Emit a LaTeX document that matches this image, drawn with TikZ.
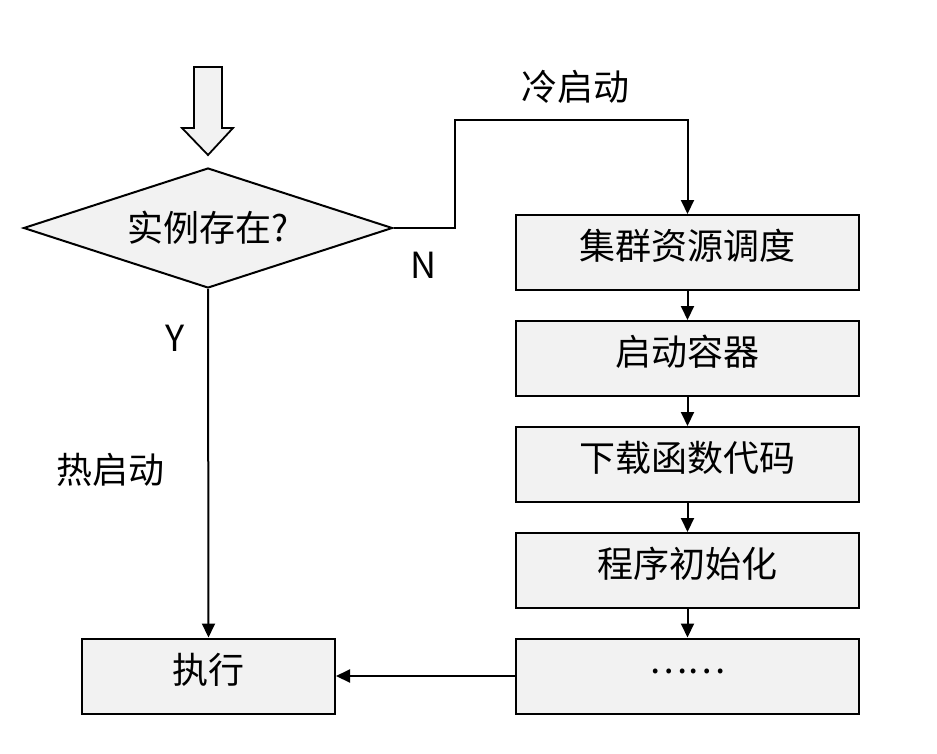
\documentclass[tikz,border=0pt]{standalone}
\usepackage{fontspec}
\setmainfont{Noto Sans CJK SC}
\usetikzlibrary{shapes.geometric,arrows.meta}
\definecolor{boxfill}{HTML}{F2F2F2}
\begin{document}
\begin{tikzpicture}[x=1pt,y=-1pt,
  every node/.style={font=\fontsize{36}{42}\selectfont},
  stepbox/.style={draw=black,line width=2pt,fill=boxfill,minimum width=343pt,minimum height=75pt,inner sep=0pt,text height=14pt,text depth=0pt},
  arr/.style={line width=2pt,-{Triangle[length=14pt,width=13pt]}},
  lbl/.style={inner sep=0pt}]
\useasboundingbox (0,0) rectangle (937,753);
% hollow entry arrow
\draw[line width=1.8pt,fill=boxfill,line join=miter]
  (194,67) -- (222,67) -- (222,128) -- (233,128) -- (208,155) -- (182,128) -- (194,128) -- cycle;
% decision
\node[draw=black,line width=2pt,fill=boxfill,shape=diamond,aspect=3.075,
      minimum width=369pt,minimum height=120pt,inner sep=0pt] (d) at (208,228) {实例存在?};
% cold start boxes
\node[stepbox] (b1) at (687.5,252.5) {集群资源调度};
\node[stepbox] (b2) at (687.5,358.5) {启动容器};
\node[stepbox] (b3) at (687.5,464.5) {下载函数代码};
\node[stepbox] (b4) at (687.5,570.5) {程序初始化};
\node[stepbox] (b5) at (687.5,676) {\raisebox{10pt}{……}};
% execute
\node[stepbox,minimum width=253pt] (ex) at (208.5,676) {执行};
% labels
\node[lbl] (lcold) at (575,87) {冷启动};
\node[lbl] (ln) at (424,265) {N};
\node[lbl] (ly) at (175,338) {Y};
\node[lbl] (lhot) at (110,470) {热启动};
% connectors
\coordinate (k1) at (455,120);
\draw[arr] (d.east) -| (k1) -| (b1.north);
\draw[arr] (b1.south) -- (b2.north);
\draw[arr] (b2.south) -- (b3.north);
\draw[arr] (b3.south) -- (b4.north);
\draw[arr] (b4.south) -- (b5.north);
\draw[arr] (d.south) -- (ex.north);
\draw[arr] (b5.west) -- (ex.east);
\end{tikzpicture}
\end{document}
